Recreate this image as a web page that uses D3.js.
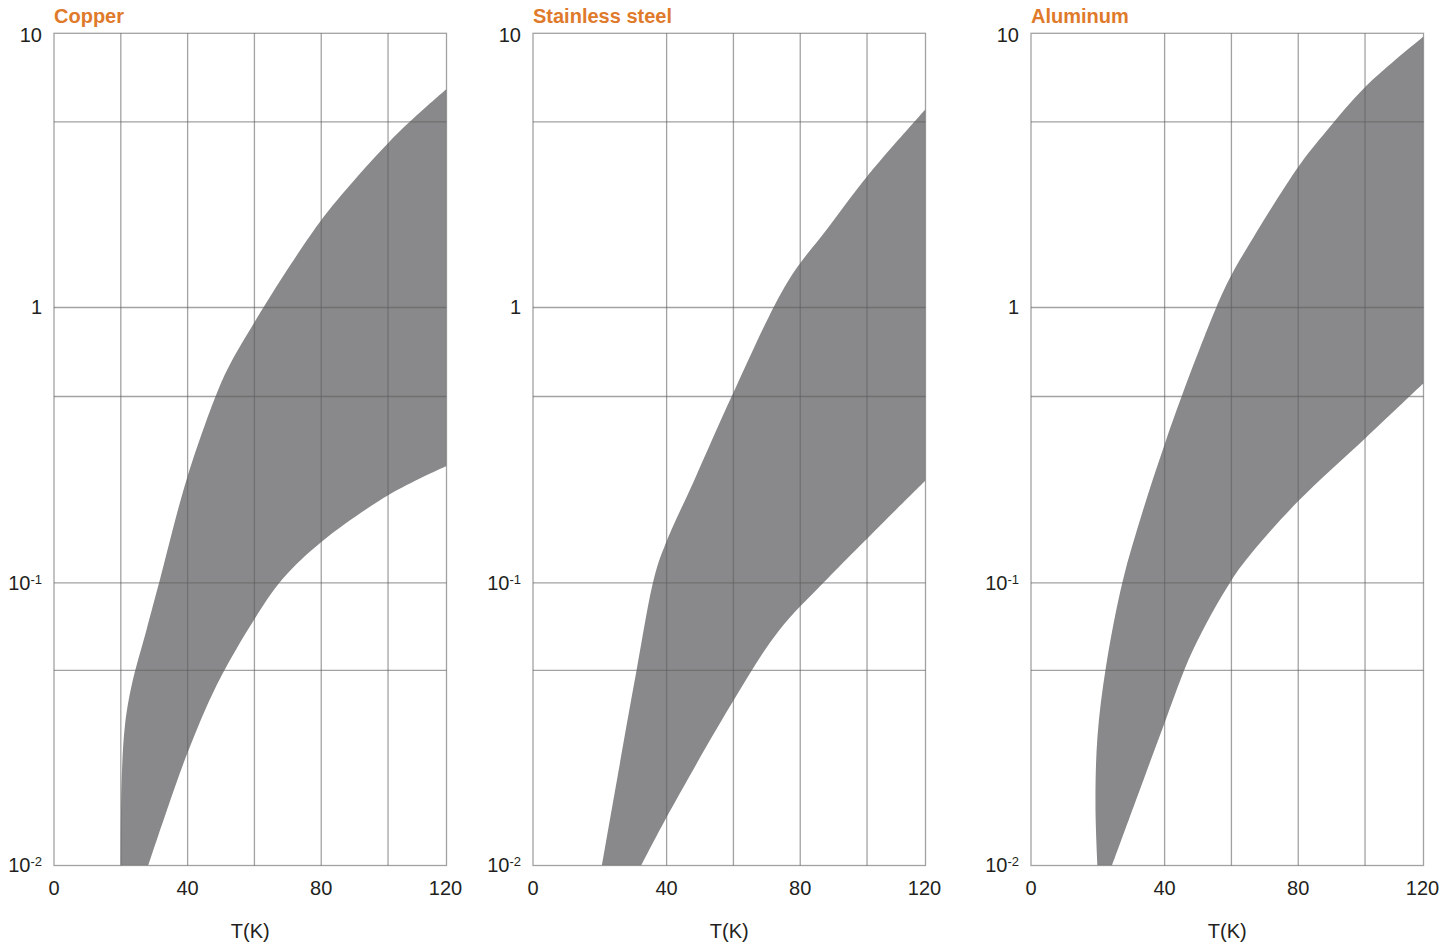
<!DOCTYPE html>
<html>
<head>
<meta charset="utf-8">
<script src="https://cdn.jsdelivr.net/npm/d3@7"></script>
<style>
  body { margin: 0; background: #fff; }
  text { font-family: "Liberation Sans", Arial, Helvetica, sans-serif; fill: #231f20; }
  .title { font-weight: bold; fill: #df7a2b; font-size: 20px; }
  .tick { font-size: 20px; }
  .grid line, .grid rect { stroke: #5e5e5e; stroke-opacity: 0.58; stroke-width: 1.3; fill: none; }
</style>
</head>
<body>
<script>
// panel titles and axes
const titles = ["Copper", "Stainless steel", "Aluminum"];
const xTicks = [0, 40, 80, 120];
const yTicks = [10, 1, 0.1, 0.01];
const yMinor = [4.75, 0.475, 0.049];
const gridT = [[20, 40, 60, 80, 100], [40, 60, 80, 100], [40, 60, 80, 100]];

// band edges [T(K), value]
const copperUpper = [[20, 0.01], [20.26, 0.0202], [21.24, 0.0313], [23.25, 0.0434], [27.74, 0.0685],
  [31.72, 0.1029], [39.71, 0.2375], [48.68, 0.486], [52.66, 0.621], [60.14, 0.889], [68.61, 1.303],
  [80.4, 2.115], [88.57, 2.793], [100.54, 4.04], [108.5, 5.01], [117.5, 6.27]];
const copperLower = [[28.2, 0.01], [33.72, 0.0156], [40, 0.0251], [48.68, 0.0434], [60.14, 0.0748],
  [68.61, 0.1038], [80.4, 0.1419], [100.54, 0.2096], [117.5, 0.2656]];

const steelUpper = [[20.65, 0.01], [30.91, 0.0484], [36.42, 0.106], [39.71, 0.1388], [48.38, 0.2375],
  [59.84, 0.486], [76.3, 1.245], [88.27, 1.95], [100.24, 3.03], [117.5, 5.29]];
const steelLower = [[32.4, 0.01], [39.71, 0.0146], [59.84, 0.038], [73.31, 0.067],
  [88.27, 0.1038], [117.5, 0.2352]];

const aluminumUpper = [[19.9, 0.01], [19.3, 0.0163], [19.9, 0.0286], [22.44, 0.0505], [27.44, 0.1014],
  [33.42, 0.1816], [39.71, 0.3106], [45.39, 0.486], [55.36, 0.994], [59.84, 1.302], [66.34, 1.782],
  [80.1, 3.27], [88.27, 4.377], [100.24, 6.41], [117.5, 9.74]];
const aluminumLower = [[24.24, 0.01], [31.42, 0.017], [39.71, 0.0313], [48.38, 0.0575], [59.84, 0.1014],
  [66.34, 0.1297], [80.1, 0.1985], [100.24, 0.3366], [117.5, 0.531]];

const bands = [[copperUpper, copperLower], [steelUpper, steelLower], [aluminumUpper, aluminumLower]];

const panelLeft = [54, 533, 1031];
const plotTop = 33.3;
const width = 392.5;
const height = 832.2;

const svg = d3.select("body").append("svg")
  .attr("width", 1453)
  .attr("height", 944);

// shared scales; y is a log scale split per decade as in the original
const x = d3.scaleLinear().domain([0, 117.5]).range([0, width]);
const y = d3.scaleLog()
  .domain([0.01, 0.1, 1, 10])
  .range([height, 549.5, 274.2, 0]);

const line = d3.line()
  .x((d) => x(d[0]))
  .y((d) => y(d[1]))
  .curve(d3.curveCatmullRom.alpha(0.5));

titles.forEach((title, i) => {
  const g = svg.append("g").attr("transform", `translate(${panelLeft[i]},${plotTop})`);

  g.append("clipPath").attr("id", "clip" + i)
    .append("rect").attr("width", width).attr("height", height);

  // band: upper edge up, lower edge back down
  const [upper, lower] = bands[i];
  const path = line(upper) + line(lower.slice().reverse()).replace(/^M/, "L") + "Z";
  g.append("path")
    .attr("d", path)
    .attr("fill", "#89898b")
    .attr("clip-path", `url(#clip${i})`);

  // grid on top of the band
  const grid = g.append("g").attr("class", "grid");
  grid.selectAll(".v").data(gridT[i]).join("line")
    .attr("x1", (d) => x(d)).attr("x2", (d) => x(d))
    .attr("y1", 0).attr("y2", height);
  grid.selectAll(".h").data(yMinor.concat([1, 0.1])).join("line")
    .attr("x1", 0).attr("x2", width)
    .attr("y1", (d) => y(d)).attr("y2", (d) => y(d));
  grid.append("rect").attr("width", width).attr("height", height);

  // y tick labels, 10^n written with a raised exponent
  yTicks.forEach((v) => {
    const t = g.append("text").attr("class", "tick")
      .attr("text-anchor", "end")
      .attr("x", -12)
      .attr("y", y(v) + (v === 10 ? 9 : 7));
    if (v >= 1) {
      t.text(String(v));
    } else {
      t.append("tspan").text("10");
      t.append("tspan").attr("dy", -6).style("font-size", "13px").text(String(Math.round(Math.log10(v))));
    }
  });

  // x tick labels
  g.selectAll(".xt").data(xTicks).join("text")
    .attr("class", "tick")
    .attr("text-anchor", "middle")
    .attr("x", (d) => Math.min(x(d), width - 1))
    .attr("y", height + 29.5)
    .text((d) => d);

  g.append("text").attr("class", "tick")
    .attr("text-anchor", "middle")
    .attr("x", width / 2)
    .attr("y", height + 72.5)
    .text("T(K)");

  g.append("text").attr("class", "title")
    .attr("x", 0)
    .attr("y", -10.5)
    .text(title);
});
</script>
</body>
</html>
